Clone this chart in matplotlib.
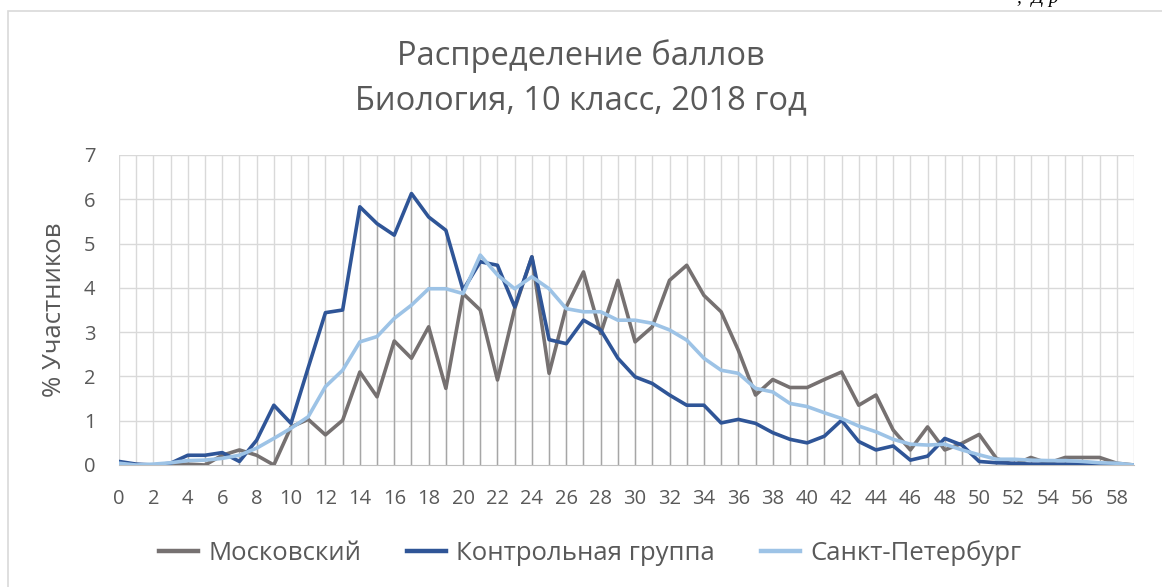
import matplotlib.pyplot as plt
import numpy as np
from matplotlib.patches import Rectangle

# баллы 0..59
scores = list(range(60))

moscow = [0, 0, 0, 0, 0.02, 0, 0.22, 0.34, 0.22, 0, 0.86, 1.03, 0.68, 1.01, 2.1, 1.54, 2.8,
          2.41, 3.12, 1.73, 3.87, 3.5, 1.92, 3.53, 4.7, 2.07, 3.57, 4.36, 2.97, 4.17, 2.78, 3.12,
          4.17, 4.51, 3.83, 3.46, 2.59, 1.58, 1.93, 1.75, 1.75, 1.93, 2.1, 1.35, 1.58, 0.79,
          0.34, 0.86, 0.34, 0.49, 0.69, 0.15, 0, 0.17, 0.04, 0.17, 0.17, 0.17, 0.04, 0]

control = [0.08, 0.02, 0, 0.04, 0.22, 0.22, 0.28, 0.08, 0.56, 1.35, 0.94, 2.2, 3.44, 3.5, 5.83,
           5.45, 5.19, 6.13, 5.6, 5.3, 3.95, 4.59, 4.51, 3.57, 4.7, 2.83, 2.74, 3.27, 3.05, 2.41,
           1.99, 1.84, 1.58, 1.35, 1.35, 0.95, 1.03, 0.94, 0.73, 0.58, 0.5, 0.65, 1.01, 0.53,
           0.34, 0.43, 0.11, 0.2, 0.6, 0.45, 0.08, 0.05, 0.04, 0.02, 0.02, 0.02, 0.02, 0, 0, 0]

spb = [0.04, 0, 0.02, 0.05, 0.1, 0.11, 0.15, 0.22, 0.38, 0.6, 0.83, 1.09, 1.77, 2.14, 2.78, 2.9,
       3.31, 3.61, 3.98, 3.98, 3.87, 4.74, 4.29, 3.98, 4.25, 3.98, 3.53, 3.46, 3.46, 3.27, 3.27,
       3.2, 3.05, 2.82, 2.41, 2.14, 2.07, 1.73, 1.65, 1.39, 1.32, 1.18, 1.05, 0.88, 0.75, 0.58,
       0.47, 0.45, 0.47, 0.34, 0.23, 0.13, 0.13, 0.11, 0.1, 0.1, 0.08, 0.05, 0.04, 0]

series_names = ["Московский", "Контрольная группа", "Санкт-Петербург"]
colors = ["#767171", "#2F5597", "#9DC3E6"]
text_col = "#595959"

plt.rcParams['font.family'] = ['Open Sans', 'DejaVu Sans']

fig = plt.figure(figsize=(11.62, 5.87), dpi=100)
ax = fig.add_axes([119 / 1162, 1 - 465 / 587, (1134 - 119) / 1162, (465 - 155) / 587])

# рамка диаграммы
fig.patches.append(Rectangle((8 / 1162, -0.05), 1.2, 1 - 11 / 587 + 0.05,
                             transform=fig.transFigure, fill=False,
                             edgecolor="#d9d9d9", linewidth=1.2))

# сетка
for y in range(1, 8):
    ax.axhline(y, color="#d9d9d9", linewidth=1, zorder=0)
for x in scores:
    ax.axvline(x, color="#d9d9d9", linewidth=1, zorder=0)

# линии проекции
tops = np.max(np.array([moscow, control, spb]), axis=0)
ax.vlines(scores, 0, tops, color="#a6a6a6", linewidth=1, zorder=1)

ax.plot(scores, moscow, color=colors[0], linewidth=2.6, label=series_names[0], zorder=3)
ax.plot(scores, control, color=colors[1], linewidth=2.6, label=series_names[1], zorder=3)
ax.plot(scores, spb, color=colors[2], linewidth=2.6, label=series_names[2], zorder=3)

ax.set_xlim(0, 59)
ax.set_ylim(0, 7)
ax.set_xticks(scores[::2])
ax.set_xticklabels([str(s) for s in scores[::2]])
ax.set_yticks(range(8))
ax.tick_params(length=0, labelsize=14.5, colors=text_col, pad=17)
ax.tick_params(axis='y', pad=17)
for s in ["top", "right", "left"]:
    ax.spines[s].set_visible(False)
ax.spines["bottom"].set_color("#bfbfbf")

ax.set_ylabel("% Участников", fontsize=18.5, color=text_col, labelpad=12)

fig.text(0.5, 1 - 56 / 587, "Распределение баллов", ha="center", va="center",
         fontsize=23.5, color=text_col)
fig.text(0.5, 1 - 101 / 587, "Биология, 10 класс, 2018 год", ha="center", va="center",
         fontsize=23.5, color=text_col)

# обрезанный текст сверху справа
fig.text(0.875, 1 - 3 / 587, ",  Д р", family="Liberation Serif", style="italic",
         fontsize=14, color="black", va="baseline")

leg = fig.legend(loc="center", bbox_to_anchor=(0.508, 1 - 553 / 587), ncol=3, frameon=False,
                 fontsize=18.5, handlelength=1.5, handletextpad=0.4, columnspacing=1.8)
for t in leg.get_texts():
    t.set_color(text_col)
for h in leg.get_lines():
    h.set_linewidth(3.2)

fig.savefig("out.png", dpi=100)
